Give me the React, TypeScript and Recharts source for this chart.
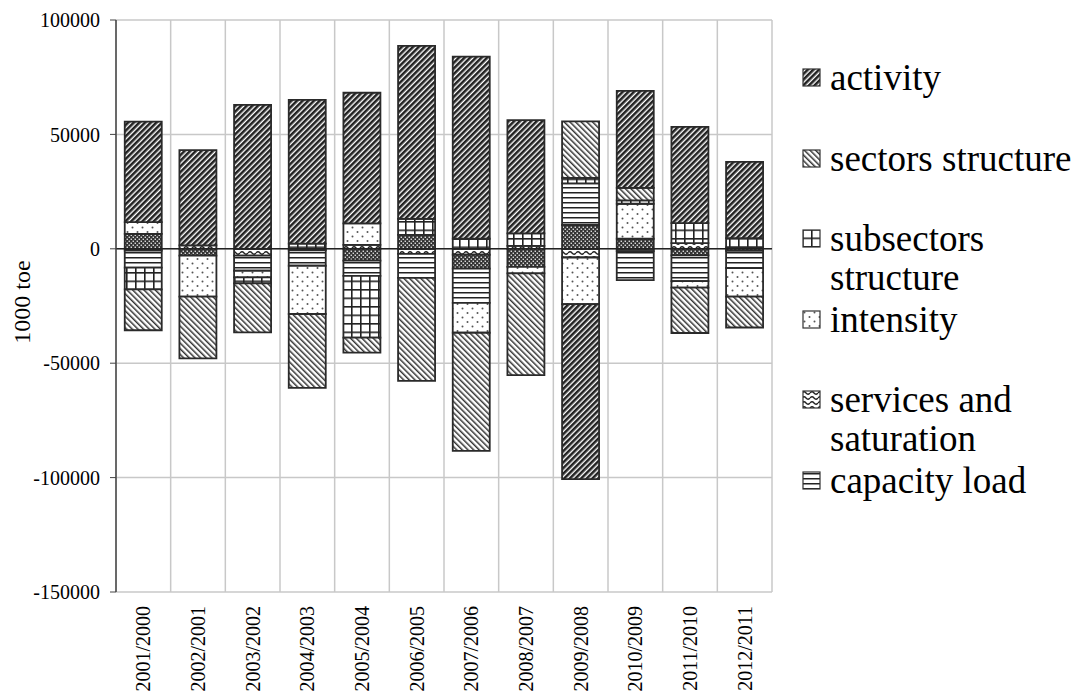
import React from 'react';
import { BarChart, Bar, XAxis, YAxis, CartesianGrid, ReferenceLine, Legend, Label } from 'recharts';

const categories = ['2001/2000', '2002/2001', '2003/2002', '2004/2003', '2005/2004', '2006/2005', '2007/2006', '2008/2007', '2009/2008', '2010/2009', '2011/2010', '2012/2011'];

const activity = [43900, 41600, 62900, 62800, 57100, 75600, 79600, 49500, -76500, 42400, 42100, 33300];
const sectorsStructure = [-17900, -27000, -21400, -32300, -6600, -45000, -51600, -44500, 24700, 5400, -19800, -13500];
const subsectorsStructure = [-9500, 0, -2600, 2300, -27000, 7000, 4400, 5400, 2400, 1500, 8700, 4100];
const intensity = [5200, -17900, -2900, -21100, 9400, 0, -13100, -2800, -20400, 15300, -2900, -12500];
const servicesSaturation = [-800, 1500, -3000, -700, 1700, -2200, -2600, 1300, -3800, -1000, 2500, 600];
const capacityLoad = [-7400, 0, -6600, -6700, -6600, -10500, -14900, 0, 18200, -12700, -11200, -7500];
const otherEffect = [6500, -3000, 0, 0, -5200, 6100, -6100, -7900, 10400, 4400, -2900, -900];

const yTicks = [-150000, -100000, -50000, 0, 50000, 100000];
const yAxisTitle = '1000 toe';

const legendItems = [
  { label: ['activity'], fill: 'url(#pActivity)' },
  { label: ['sectors structure'], fill: 'url(#pSectors)' },
  { label: ['subsectors', 'structure'], fill: 'url(#pSubsectors)' },
  { label: ['intensity'], fill: 'url(#pIntensity)' },
  { label: ['services and', 'saturation'], fill: 'url(#pServices)' },
  { label: ['capacity load'], fill: 'url(#pCapacity)' },
];

const data = categories.map((c, i) => ({
  cat: c,
  activity: activity[i],
  sectors: sectorsStructure[i],
  subsectors: subsectorsStructure[i],
  intensity: intensity[i],
  services: servicesSaturation[i],
  capacity: capacityLoad[i],
  other: otherEffect[i],
}));

const FONT = "'Liberation Serif', 'Times New Roman', Times, serif";

const XTick = (props: any) => {
  const { x, y, payload } = props;
  return (
    <text x={x} y={y + 6} dy="0.35em" textAnchor="end" transform={`rotate(-90, ${x}, ${y + 6})`} fontFamily={FONT} fontSize={20} fill="#000">
      {payload.value}
    </text>
  );
};

const YTitle = (p: any) => {
  const vb = p.viewBox || { x: 0, y: 20, width: 116, height: 572 };
  const cx = vb.x + 22;
  const cy = vb.y + vb.height / 2 - 4;
  return (
    <g>
      <text x={cx} y={cy} dy="0.35em" textAnchor="middle" transform={`rotate(-90, ${cx}, ${cy})`} fontFamily={FONT} fontSize={24} fill="#000">
        {yAxisTitle}
      </text>
    </g>
  );
};

const LegendBox = () => (
  <div style={{ fontFamily: FONT, fontSize: 37, color: '#000', width: 277 }}>
    {legendItems.map((it) => (
      <div key={it.label[0]} style={{ height: 80.5, position: 'relative' }}>
        <svg width={20} height={20} style={{ position: 'absolute', left: 2, top: 10 }}>
          <rect x={1} y={1} width={17} height={17} fill={it.fill} stroke="#333" strokeWidth={1.2} />
        </svg>
        <div style={{ position: 'absolute', left: 30, top: 0, lineHeight: '39px', whiteSpace: 'nowrap' }}>
          {it.label.map((l) => (
            <div key={l}>{l}</div>
          ))}
        </div>
      </div>
    ))}
  </div>
);

const barStroke = { stroke: '#2a2a2a', strokeWidth: 1.8 };

export default function App() {
  return (
    <div style={{ position: 'absolute', left: 0, top: 0, width: 1077, height: 695, background: '#fff' }}>
      <BarChart width={1077} height={695} data={data} stackOffset="sign" barCategoryGap="16%" margin={{ top: 20, right: 305, bottom: 0, left: 0 }}>
        <defs>
          <pattern id="pActivity" patternUnits="userSpaceOnUse" width="4" height="4" patternTransform="rotate(45)">
            <rect width="4" height="4" fill="#fff" />
            <rect x="0" y="0" width="2.6" height="4" fill="#222" />
          </pattern>
          <pattern id="pSectors" patternUnits="userSpaceOnUse" width="4" height="4" patternTransform="rotate(-45)">
            <rect width="4" height="4" fill="#fff" />
            <rect x="0" y="0" width="1.5" height="4" fill="#333" />
          </pattern>
          <pattern id="pSubsectors" patternUnits="userSpaceOnUse" width="9" height="8.5">
            <rect width="9" height="8.5" fill="#fff" />
            <rect x="0" y="0" width="1.6" height="8.5" fill="#222" />
            <rect x="0" y="0" width="9" height="1.6" fill="#222" />
          </pattern>
          <pattern id="pIntensity" patternUnits="userSpaceOnUse" width="10" height="9">
            <rect width="10" height="9" fill="#fff" />
            <circle cx="2.5" cy="2.5" r="1" fill="#555" />
            <circle cx="7.5" cy="7" r="1" fill="#555" />
          </pattern>
          <pattern id="pOther" patternUnits="userSpaceOnUse" width="4" height="4">
            <rect width="4" height="4" fill="#333" />
            <rect x="0.6" y="0.6" width="1.3" height="1.3" fill="#fff" />
            <rect x="2.6" y="2.6" width="1.3" height="1.3" fill="#fff" />
          </pattern>
          <pattern id="pCapacity" patternUnits="userSpaceOnUse" width="4" height="5">
            <rect width="4" height="5" fill="#fff" />
            <rect x="0" y="2" width="4" height="1.5" fill="#222" />
          </pattern>
          <pattern id="pServices" patternUnits="userSpaceOnUse" width="8" height="5">
            <rect width="8" height="5" fill="#fff" />
            <path d="M0 3 Q2 0.5 4 3 T8 3" fill="none" stroke="#222" strokeWidth="1.3" />
          </pattern>
        </defs>
        <CartesianGrid
          stroke="#c8c8c8"
          strokeWidth={1.5}
          verticalCoordinatesGenerator={({ offset }: any) =>
            Array.from({ length: categories.length + 1 }, (_, i) => offset.left + (i * offset.width) / categories.length)
          }
        />
        <XAxis dataKey="cat" interval={0} axisLine={false} tickLine={false} height={103} tick={<XTick />} />
        <YAxis
          width={116}
          domain={[-150000, 100000]}
          ticks={yTicks}
          interval={0}
          axisLine={{ stroke: '#444', strokeWidth: 1.5 }}
          tickLine={{ stroke: '#444' }}
          tickSize={6}
          tickMargin={10}
          tick={{ fontFamily: FONT, fontSize: 20, fill: '#000' }}
        >
          <Label content={YTitle} />
        </YAxis>
        <Bar dataKey="services" name="services and saturation" stackId="a" fill="url(#pServices)" {...barStroke} isAnimationActive={false} />
        <Bar dataKey="other" name="other" stackId="a" fill="url(#pOther)" {...barStroke} isAnimationActive={false} />
        <Bar dataKey="capacity" name="capacity load" stackId="a" fill="url(#pCapacity)" {...barStroke} isAnimationActive={false} />
        <Bar dataKey="intensity" name="intensity" stackId="a" fill="url(#pIntensity)" {...barStroke} isAnimationActive={false} />
        <Bar dataKey="subsectors" name="subsectors structure" stackId="a" fill="url(#pSubsectors)" {...barStroke} isAnimationActive={false} />
        <Bar dataKey="sectors" name="sectors structure" stackId="a" fill="url(#pSectors)" {...barStroke} isAnimationActive={false} />
        <Bar dataKey="activity" name="activity" stackId="a" fill="url(#pActivity)" {...barStroke} isAnimationActive={false} />
        <ReferenceLine y={0} stroke="#222" strokeWidth={1.6} />
        <Legend layout="vertical" align="center" verticalAlign="middle" content={() => <LegendBox />} wrapperStyle={{ left: 800, top: 58, width: 277, right: 'auto', bottom: 'auto' }} />
      </BarChart>
    </div>
  );
}
